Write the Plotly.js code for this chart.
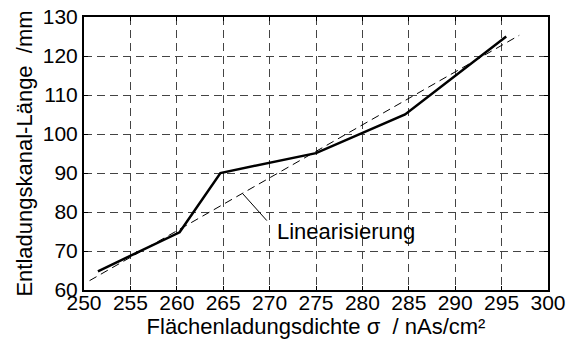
<!DOCTYPE html>
<html><head><meta charset="utf-8">
<script src="https://cdn.plot.ly/plotly-3.0.1.min.js"></script>
<style>body{margin:0;background:#fff}#chart{width:576px;height:340px}</style>
</head><body><div id="chart"></div>
<script>
const sigma = [251.5, 260.3, 264.7, 275, 284.6, 295.5];
const laenge = [64.8, 74.8, 90, 95.1, 105, 125];
const linX = [250.6, 296.9];
const linY = [62.4, 125.3];
const xTicks = [250,255,260,265,270,275,280,285,290,295,300];
const yTicks = [60,70,80,90,100,110,120,130];
const labelText = 'Linearisierung';

const fam = 'Liberation Sans, Arial, sans-serif';
const tickFont = {family: fam, size: 21, color: '#000'};
const titleFont = {family: fam, size: 22, color: '#000'};
const traces = [
  {x: linX, y: linY, mode: 'lines', line: {color: '#000', width: 1, dash: '8px,5px'}, hoverinfo: 'skip'},
  {x: sigma, y: laenge, mode: 'lines', line: {color: '#000', width: 2.5}, hoverinfo: 'skip'}
];
const axisCommon = {
  showline: true, linecolor: '#000', linewidth: 2, mirror: 'ticks',
  ticks: 'inside', ticklen: 4, tickcolor: '#000', tickwidth: 1,
  showgrid: true, gridcolor: '#444', griddash: '8px,5px', gridwidth: 1,
  zeroline: false, tickfont: tickFont
};
const layout = {
  width: 576, height: 340,
  margin: {l: 84, r: 28, t: 17, b: 50},
  paper_bgcolor: '#fff', plot_bgcolor: '#fff',
  showlegend: false,
  font: tickFont,
  xaxis: Object.assign({}, axisCommon, {
    range: [250, 300], tickvals: xTicks, ticktext: xTicks.map(String),
    ticklabelstandoff: -7,
    title: {text: 'Flächenladungsdichte σ  / nAs/cm²', font: titleFont, standoff: 0}
  }),
  yaxis: Object.assign({}, axisCommon, {
    range: [60, 130], tickvals: yTicks, ticktext: yTicks.map(String),
    ticklabelstandoff: 0,
    title: {text: 'Entladungskanal-Länge  /mm', font: titleFont, standoff: 4}
  }),
  shapes: [
    {type: 'line', xref: 'x', yref: 'y', x0: 267.1, y0: 84.7, x1: 269.7, y1: 77.8,
     line: {color: '#000', width: 1}}
  ],
  annotations: [
    {x: 270.6, y: 75.0, xref: 'x', yref: 'y', text: labelText, showarrow: false,
     xanchor: 'left', yanchor: 'middle', font: titleFont}
  ]
};
Plotly.newPlot('chart', traces, layout, {staticPlot: true});
</script></body></html>
